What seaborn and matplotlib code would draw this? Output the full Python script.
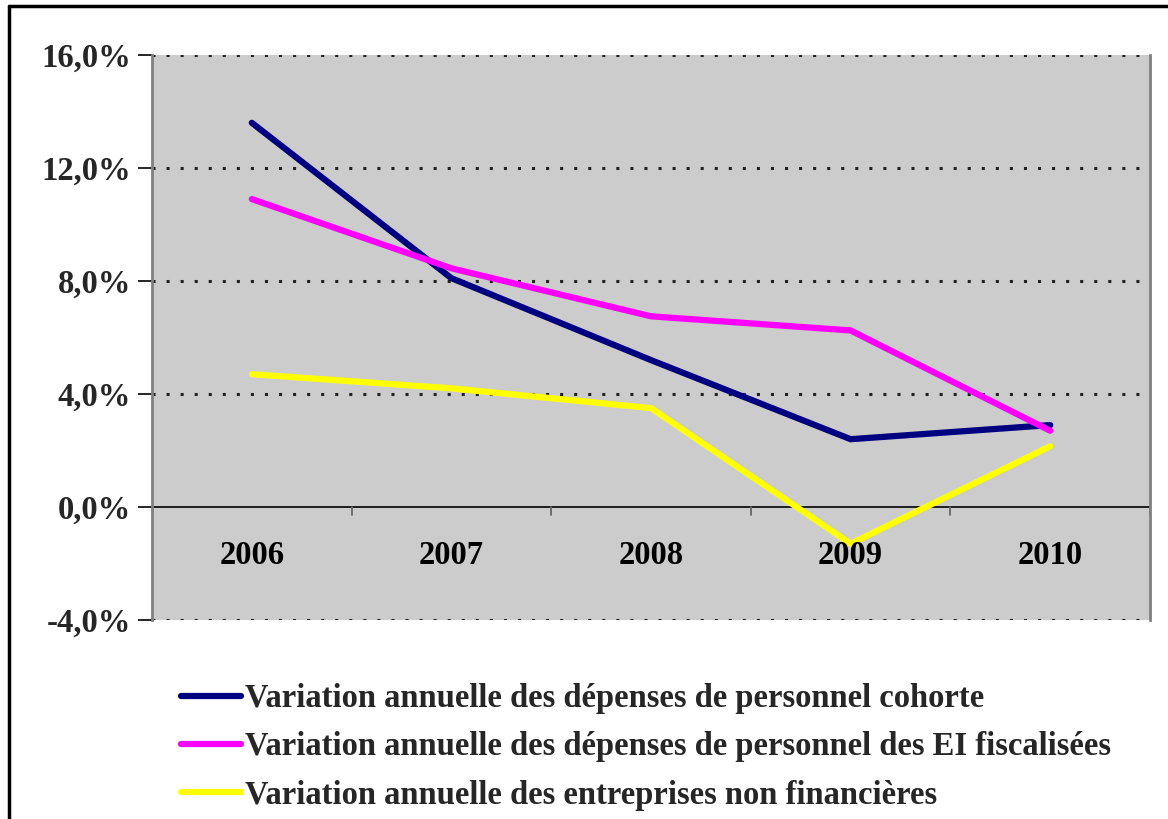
import matplotlib
matplotlib.use("Agg")
import matplotlib.pyplot as plt
from matplotlib.lines import Line2D
import seaborn as sns
import pandas as pd

# Series values (% annual change)
years = ["2006", "2007", "2008", "2009", "2010"]
cohorte = [13.6, 8.1, 5.2, 2.4, 2.9]
ei_fiscalisees = [10.9, 8.45, 6.75, 6.25, 2.7]
entreprises_nf = [4.7, 4.2, 3.5, -1.3, 2.15]

labels = [
    "Variation annuelle des dépenses de personnel cohorte",
    "Variation annuelle des dépenses de personnel des EI fiscalisées",
    "Variation annuelle des entreprises non financières",
]
colors = ["#000080", "#FF00FF", "#FFFF00"]
y_ticks = [-4, 0, 4, 8, 12, 16]

df = pd.DataFrame({
    "x": list(range(len(years))) * 3,
    "value": cohorte + ei_fiscalisees + entreprises_nf,
    "serie": [labels[0]] * 5 + [labels[1]] * 5 + [labels[2]] * 5,
})

sns.set_style("white")
plt.rcParams["font.family"] = ["Liberation Serif", "DejaVu Serif"]
plt.rcParams["font.weight"] = "bold"

FS = 23.5
LW = 4.5

fig = plt.figure(figsize=(11.68, 8.19), dpi=100)
ax = fig.add_axes([152 / 1168, 1 - 620 / 819, 998 / 1168, 565 / 819])
ax.set_facecolor("#CCCCCC")

# dotted horizontal gridlines
for v in y_ticks:
    if v != 0:
        ax.axhline(v, color="#222222", lw=2.2, linestyle=(0, (1.0, 3.6)),
                   zorder=1, dash_capstyle="butt")
ax.axhline(0, color="black", lw=1.2, zorder=2)

sns.lineplot(data=df, x="x", y="value", hue="serie", palette=colors,
             hue_order=labels, lw=LW, ax=ax, legend=False, zorder=3,
             solid_capstyle="round", solid_joinstyle="miter")

ax.set_xlim(-0.5, len(years) - 0.5)
ax.set_ylim(-4, 16)
ax.set_xlabel("")
ax.set_ylabel("")

# small tick marks on the zero line, between categories
for b in range(1, len(years) + 1):
    ax.plot([b - 0.5, b - 0.5], [0, -0.28], color="#666666", lw=1.3, zorder=2)

# year labels inside the plot area
for i, yr in enumerate(years):
    ax.text(i, -1.7, yr, ha="center", va="center", fontsize=FS,
            fontweight="bold", color="black")

ax.set_xticks([])
ax.set_yticks(y_ticks)
ax.set_yticklabels([f"{v:.1f}%".replace(".", ",") for v in y_ticks],
                   fontsize=FS, fontweight="bold")
ax.tick_params(axis="y", direction="out", length=10, width=1.2, color="black",
               pad=5, left=True)

for s in ["left", "right"]:
    ax.spines[s].set_visible(True)
    ax.spines[s].set_color("#808080")
    ax.spines[s].set_linewidth(2)
ax.spines["top"].set_visible(False)
ax.spines["bottom"].set_visible(False)

# outer frame
fig.add_artist(Line2D([9 / 1168, 9 / 1168], [0, 1 - 6 / 819], transform=fig.transFigure,
                      color="black", lw=2.5))
fig.add_artist(Line2D([9 / 1168, 1], [1 - 6 / 819, 1 - 6 / 819], transform=fig.transFigure,
                      color="black", lw=2.5))

handles = [Line2D([0], [0], color=c, lw=LW, solid_capstyle="round") for c in colors]
leg = fig.legend(handles, labels, loc="upper left",
                 bbox_to_anchor=(181 / 1168, 1 - 683 / 819),
                 frameon=False, fontsize=FS, handlelength=1.84,
                 handletextpad=0.12, labelspacing=0.53, borderpad=0, borderaxespad=0)
for t in leg.get_texts():
    t.set_fontweight("bold")

fig.savefig("out.png", dpi=100, facecolor="white")
